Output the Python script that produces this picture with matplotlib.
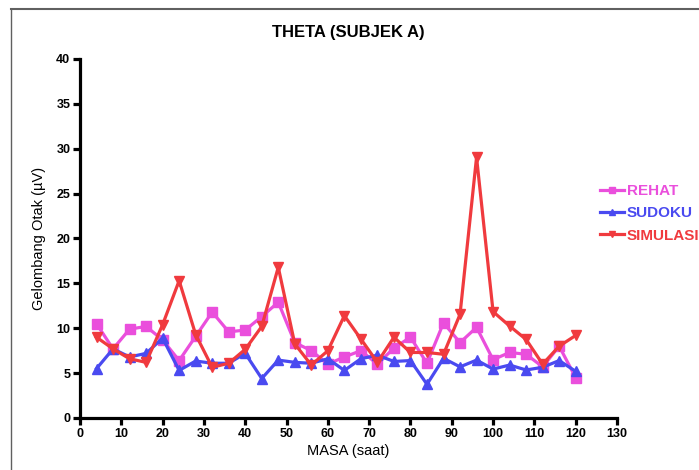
import numpy as np
import matplotlib.pyplot as plt

plt.rcParams['font.family'] = ['Liberation Sans', 'DejaVu Sans']

masa = [4, 8, 12, 16, 20, 24, 28, 32, 36, 40, 44, 48, 52, 56, 60,
        64, 68, 72, 76, 80, 84, 88, 92, 96, 100, 104, 108, 112, 116, 120]

rehat = [10.5, 7.7, 9.9, 10.2, 8.7, 6.4, 9.1, 11.8, 9.6, 9.8, 11.3, 12.9, 8.4, 7.5, 6.0,
         6.8, 7.5, 6.0, 7.8, 9.0, 6.1, 10.6, 8.4, 10.1, 6.5, 7.3, 7.1, 5.7, 8.0, 4.5]

sudoku = [5.5, 7.7, 6.8, 7.2, 8.9, 5.3, 6.35, 6.1, 6.1, 7.2, 4.4, 6.45, 6.2, 6.1, 6.6,
          5.3, 6.6, 7.0, 6.3, 6.4, 3.75, 6.65, 5.7, 6.45, 5.45, 5.9, 5.35, 5.65, 6.4, 5.2]

simulasi = [9.0, 7.7, 6.6, 6.2, 10.4, 15.3, 9.3, 5.65, 6.1, 7.65, 10.2, 16.8, 8.25, 5.9, 7.5,
            11.4, 8.8, 6.2, 9.0, 7.3, 7.3, 7.1, 11.55, 29.05, 11.85, 10.25, 8.75, 6.0, 8.0, 9.2]

labels = ['REHAT', 'SUDOKU', 'SIMULASI']
colors = ['#ea4fdc', '#4a4af0', '#f03a3e']
markers = ['s', '^', 'v']

fig = plt.figure(figsize=(6.99, 4.70), dpi=100)
ax = fig.add_axes([80/699, 1-418/470, 537/699, 359/470])

# light frame around the figure (top and left edges only)
fig.add_artist(plt.Line2D([11/699, 1], [1-9/470, 1-9/470], color='#606060', lw=1.5,
                          transform=fig.transFigure))
fig.add_artist(plt.Line2D([11/699, 11/699], [0, 1-9/470], color='#606060', lw=1.0,
                          transform=fig.transFigure))

for vals, lab, c, m in zip([rehat, sudoku, simulasi], labels, colors, markers):
    ax.plot(masa, vals, color=c, marker=m, markersize=6.5, lw=2.3, label=lab, clip_on=False)

ax.set_xlim(0, 130)
ax.set_ylim(0, 40)
ax.set_xticks(np.arange(0, 131, 10))
ax.set_yticks(np.arange(0, 41, 5))
for s in ['top', 'right']:
    ax.spines[s].set_visible(False)
for s in ['left', 'bottom']:
    ax.spines[s].set_linewidth(2.3)
ax.tick_params(direction='out', length=5, width=2.3, labelsize=9, pad=2)
for t in ax.get_xticklabels() + ax.get_yticklabels():
    t.set_fontweight('bold')

ax.set_xlabel('MASA (saat)', fontsize=10.5, labelpad=3)
ax.set_ylabel('Gelombang Otak (µV)', fontsize=10.5, labelpad=7)
fig.text(348/699, 1-32/470, 'THETA (SUBJEK A)', ha='center', va='center',
         fontsize=12, fontweight='bold')

leg = ax.legend(loc='upper left', bbox_to_anchor=(600/699, 1-184/470),
                bbox_transform=fig.transFigure, frameon=False, fontsize=11,
                handlelength=1.6, handletextpad=0.15, labelspacing=0.55, borderpad=0,
                borderaxespad=0, markerscale=0.75)
for txt, c in zip(leg.get_texts(), colors):
    txt.set_color(c)
    txt.set_fontweight('bold')

fig.savefig('out.png', dpi=100)
